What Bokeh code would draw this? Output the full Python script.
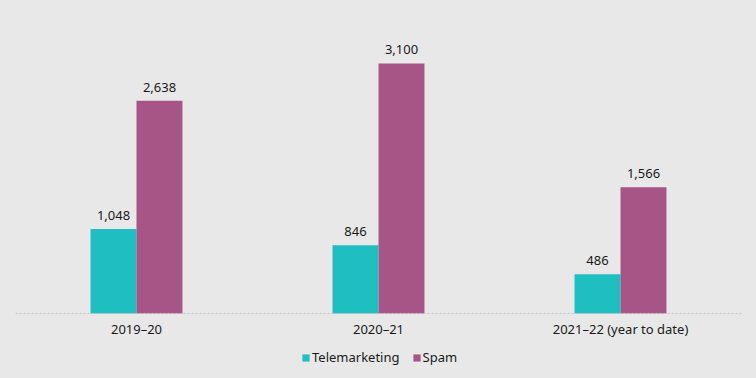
from bokeh.plotting import figure
from bokeh.models import ColumnDataSource, FactorRange, Span, Legend, LegendItem, GlobalInlineStyleSheet
from bokeh.core.properties import value
from bokeh.transform import dodge
from bokeh.embed import file_html
from bokeh.resources import INLINE

years = ["2019\u201320", "2020\u201321", "2021\u201322 (year to date)"]
telemarketing = [1048, 846, 486]
spam = [2638, 3100, 1566]
series_names = ["Telemarketing", "Spam"]
colors = ["#1fbec0", "#a75487"]

BG = "#e8e8e8"
FONT = "Noto Sans"

src = ColumnDataSource(dict(
    year=years,
    base=[0] * len(years),
    tele=telemarketing,
    spam=spam,
    tele_lbl=[f"{v:,}" for v in telemarketing],
    spam_lbl=[f"{v:,}" for v in spam],
))

p = figure(x_range=FactorRange(*years, range_padding=0), y_range=(-807, 3757),
           width=756, height=378,
           output_backend="svg", toolbar_location=None,
           background_fill_color=BG, border_fill_color=BG,
           min_border_left=15, min_border_right=15, min_border_top=10, min_border_bottom=0,
           outline_line_color=None)

r1 = p.vbar(x=dodge("year", -0.095, range=p.x_range), top="tele", width=0.19,
            source=src, color=colors[0], line_color=None)
r2 = p.vbar(x=dodge("year", 0.095, range=p.x_range), top="spam", width=0.19,
            source=src, color=colors[1], line_color=None)

for col, lbl, off in [("tele", "tele_lbl", -0.095), ("spam", "spam_lbl", 0.095)]:
    p.text(x=dodge("year", off, range=p.x_range), y=col, text=lbl, source=src,
           text_align="center", text_baseline="bottom", y_offset=-9,
           text_font=value(FONT), text_font_size="13px", text_color="#1a1a1a")

# category labels under the baseline
p.text(x="year", y="base", text="year", source=src,
       text_align="center", text_baseline="top", y_offset=7,
       text_font=value(FONT), text_font_size="13px", text_color="#1a1a1a")

p.add_layout(Span(location=0, dimension="width", line_color="#c0c0c0",
                  line_dash="2 2", line_width=1))

p.xaxis.visible = False
p.yaxis.visible = False
p.xgrid.visible = False
p.ygrid.visible = False

legend = Legend(items=[LegendItem(label=series_names[0], renderers=[r1]),
                       LegendItem(label=series_names[1], renderers=[r2])],
                orientation="horizontal", location=(286, 12),
                background_fill_alpha=0, border_line_color=None,
                label_text_font=FONT, label_text_font_size="13px",
                label_text_color="#1a1a1a",
                glyph_width=9, glyph_height=9, label_standoff=2, spacing=12,
                padding=0, margin=0)
p.add_layout(legend)

p.stylesheets = [GlobalInlineStyleSheet(css=f"body {{ background: {BG}; }}")]

open("out.html", "w").write(file_html(p, INLINE))
